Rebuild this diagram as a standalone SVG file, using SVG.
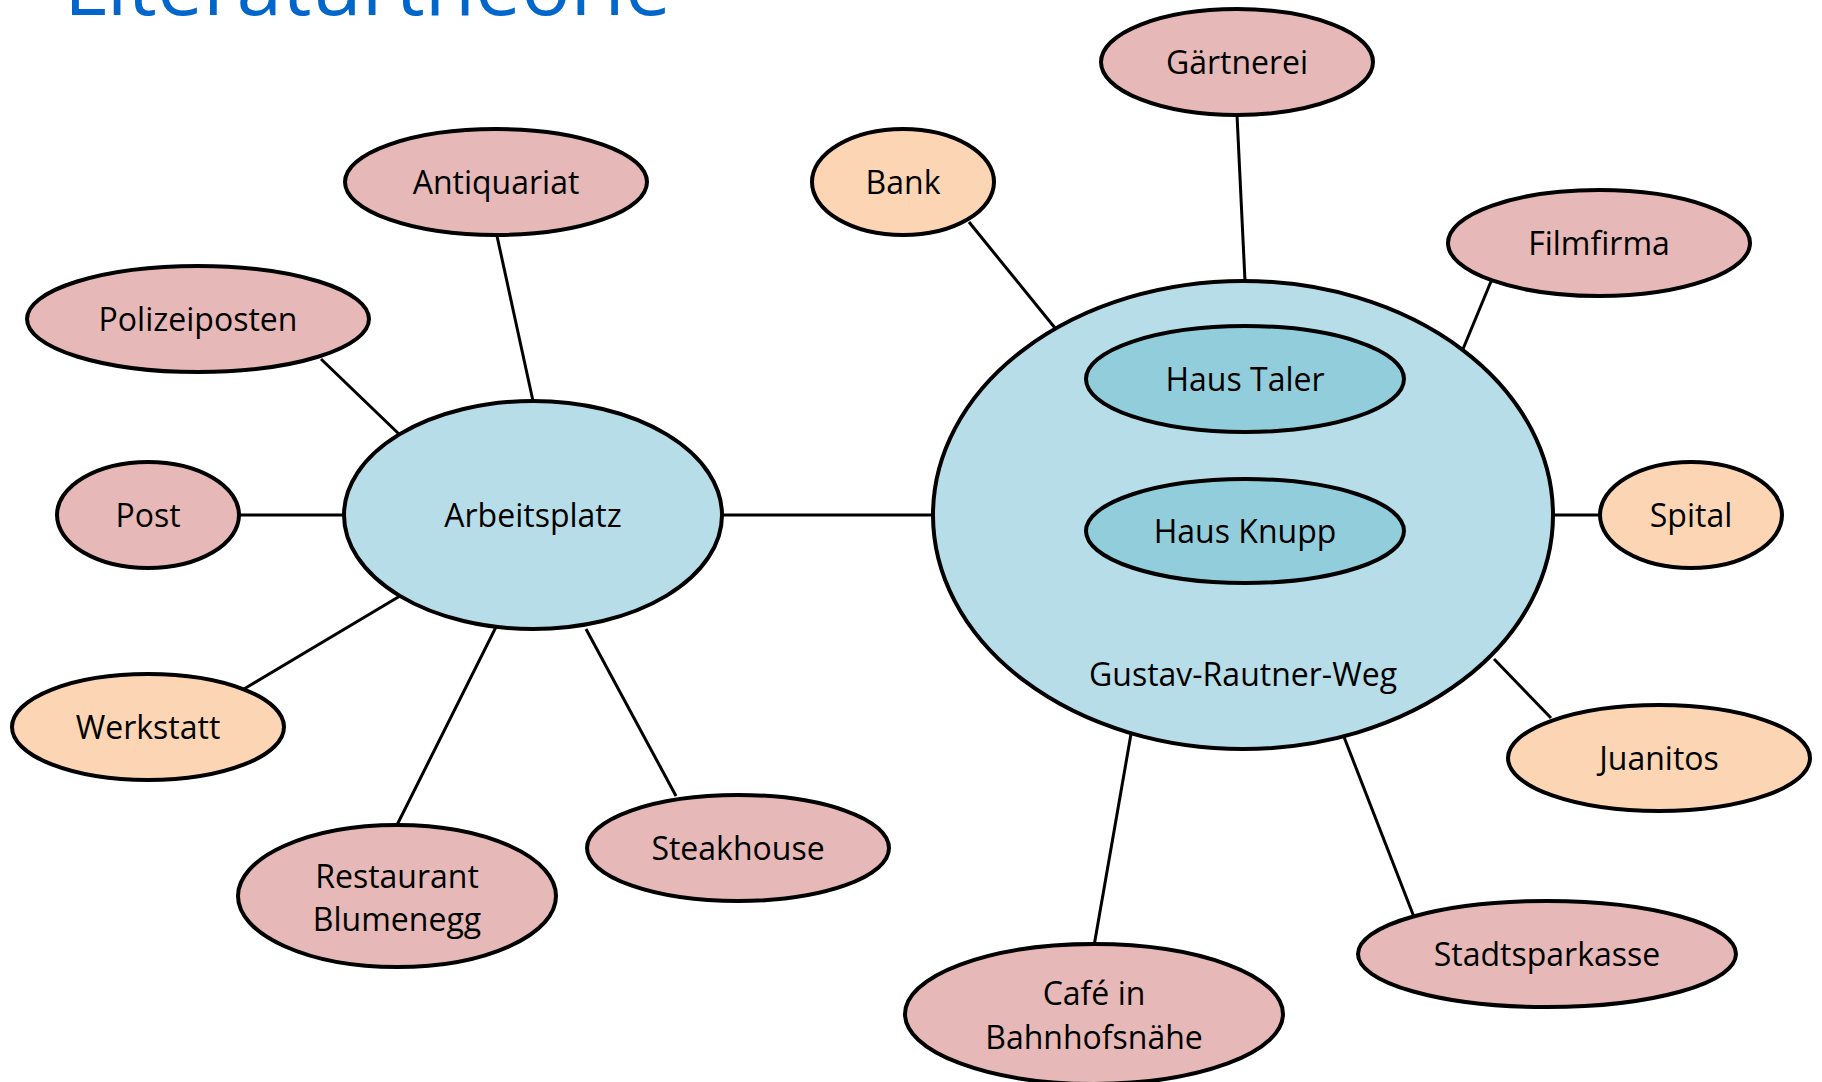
<svg xmlns="http://www.w3.org/2000/svg" width="1822" height="1082" viewBox="0 0 1822 1082">
<style>
.n{stroke:#000;stroke-width:4}
.pink{fill:#E6B8B7}
.peach{fill:#FCD5B4}
.blue{fill:#B7DDE8}
.inner{fill:#92CDDC}
.t{font-family:"Open Sans","Liberation Sans",sans-serif;font-size:32px;fill:#000;text-anchor:middle}
.c line{stroke:#000;stroke-width:3}
</style>
<rect width="1822" height="1082" fill="#fff"/>
<text x="64" y="15" font-family="Open Sans, Liberation Sans, sans-serif" font-size="81" fill="#0066CC" textLength="607" lengthAdjust="spacingAndGlyphs">Literaturtheorie</text>
<g class="c" id="connectors">
<line x1="497" y1="236" x2="533" y2="401"/>
<line x1="321" y1="359" x2="400" y2="435"/>
<line x1="238" y1="515" x2="344" y2="515"/>
<line x1="244" y1="689" x2="400" y2="596"/>
<line x1="397" y1="825" x2="496" y2="627"/>
<line x1="676" y1="796" x2="586" y2="629"/>
<line x1="723" y1="515" x2="934" y2="515"/>
<line x1="969" y1="222" x2="1055" y2="328"/>
<line x1="1237" y1="115" x2="1245" y2="281"/>
<line x1="1492" y1="279" x2="1463" y2="349"/>
<line x1="1553" y1="515" x2="1599" y2="515"/>
<line x1="1494" y1="659" x2="1551" y2="718"/>
<line x1="1344" y1="737" x2="1414" y2="917"/>
<line x1="1131" y1="734" x2="1094" y2="946"/>
</g>
<g id="arbeitsplatz"><ellipse class="n blue" cx="533" cy="515" rx="189" ry="114"/><text class="t" x="533" y="527">Arbeitsplatz</text></g>
<g id="gustav"><ellipse class="n blue" cx="1243" cy="515" rx="310" ry="234"/><text class="t" x="1243" y="686">Gustav-Rautner-Weg</text></g>
<g id="haus-taler"><ellipse class="n inner" cx="1245" cy="379" rx="159" ry="53"/><text class="t" x="1245" y="391">Haus Taler</text></g>
<g id="haus-knupp"><ellipse class="n inner" cx="1245" cy="531" rx="159" ry="52"/><text class="t" x="1245" y="543">Haus Knupp</text></g>
<g id="antiquariat"><ellipse class="n pink" cx="496" cy="182" rx="151" ry="53"/><text class="t" x="496" y="194">Antiquariat</text></g>
<g id="polizeiposten"><ellipse class="n pink" cx="198" cy="319" rx="171" ry="53"/><text class="t" x="198" y="331">Polizeiposten</text></g>
<g id="post"><ellipse class="n pink" cx="148" cy="515" rx="91" ry="53"/><text class="t" x="148" y="527">Post</text></g>
<g id="werkstatt"><ellipse class="n peach" cx="148" cy="727" rx="136" ry="53"/><text class="t" x="148" y="739">Werkstatt</text></g>
<g id="restaurant"><ellipse class="n pink" cx="397" cy="896" rx="159" ry="71"/><text class="t" x="397" y="888">Restaurant</text><text class="t" x="397" y="931">Blumenegg</text></g>
<g id="steakhouse"><ellipse class="n pink" cx="738" cy="848" rx="151" ry="53"/><text class="t" x="738" y="860">Steakhouse</text></g>
<g id="bank"><ellipse class="n peach" cx="903" cy="182" rx="91" ry="53"/><text class="t" x="903" y="194">Bank</text></g>
<g id="gaertnerei"><ellipse class="n pink" cx="1237" cy="62" rx="136" ry="53"/><text class="t" x="1237" y="74">Gärtnerei</text></g>
<g id="filmfirma"><ellipse class="n pink" cx="1599" cy="243" rx="151" ry="53"/><text class="t" x="1599" y="255">Filmfirma</text></g>
<g id="spital"><ellipse class="n peach" cx="1691" cy="515" rx="91" ry="53"/><text class="t" x="1691" y="527">Spital</text></g>
<g id="juanitos"><ellipse class="n peach" cx="1659" cy="758" rx="151" ry="53"/><text class="t" x="1659" y="770">Juanitos</text></g>
<g id="stadtsparkasse"><ellipse class="n pink" cx="1547" cy="954" rx="189" ry="53"/><text class="t" x="1547" y="966">Stadtsparkasse</text></g>
<g id="cafe"><ellipse class="n pink" cx="1094" cy="1014" rx="189" ry="70"/><text class="t" x="1094" y="1005">Café in</text><text class="t" x="1094" y="1049">Bahnhofsnähe</text></g>
</svg>
